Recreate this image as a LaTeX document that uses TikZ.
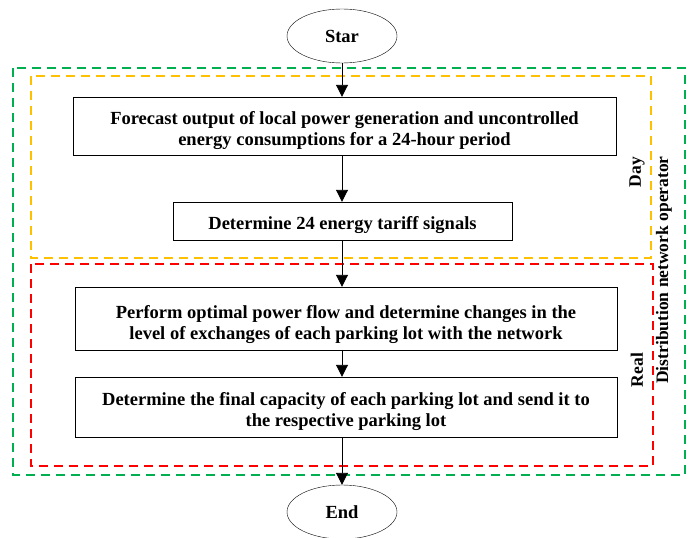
\documentclass[tikz,border=0pt]{standalone}
\usepackage{fontspec}
\setmainfont{Liberation Serif}
\usetikzlibrary{shapes.geometric,arrows.meta}
\begin{document}
\begin{tikzpicture}[x=1pt,y=-1pt,
  term/.style={draw,ellipse,minimum width=110pt,minimum height=54pt,font=\bfseries\fontsize{18.5}{21}\selectfont,inner sep=0pt},
  proc/.style={draw,rectangle,inner sep=0pt},
  ptext/.style={align=center,font=\bfseries\fontsize{18.5}{21}\selectfont,inner sep=0pt},
  flow/.style={line width=0.9pt,-{Triangle[length=12pt,width=12pt]}},
  grp/.style={dashed,dash pattern=on 9pt off 6pt,line width=1.6pt},
  lbl/.style={rotate=90,font=\bfseries\fontsize{17.5}{20}\selectfont,align=center}]
\useasboundingbox (0,0) rectangle (694,538);
\definecolor{dgreen}{RGB}{0,176,80}
\definecolor{dyellow}{RGB}{255,192,0}
\definecolor{dred}{RGB}{255,0,0}
\draw[grp,dgreen] (13,68) rectangle (685,475);
\draw[grp,dyellow] (31,76) rectangle (651,258);
\draw[grp,dred] (31,264) rectangle (653,466);
\node[term] (star) at (342,36) {Star};
\node[proc,minimum width=543pt,minimum height=58pt] (b1) at (344.5,126) {};
\node[ptext] (t1) at ([yshift=-5pt]b1.center) {Forecast output of local power generation and uncontrolled\\energy consumptions for a 24-hour period};
\node[proc,minimum width=339pt,minimum height=38pt] (b2) at (342.5,221) {};
\node[ptext] (t2) at ([yshift=-4pt]b2.center) {Determine 24 energy tariff signals};
\node[proc,minimum width=542pt,minimum height=63pt] (b3) at (346,318.5) {};
\node[ptext] (t3) at ([yshift=-6pt]b3.center) {Perform optimal power flow and determine changes in the\\level of exchanges of each parking lot with the network};
\node[proc,minimum width=542pt,minimum height=60pt] (b4) at (346,407) {};
\node[ptext] (t4) at ([yshift=-5pt]b4.center) {Determine the final capacity of each parking lot and send it to\\the respective parking lot};
\node[term] (end) at (342,512) {End};
\draw[flow] (star.south) -- (star.south |- b1.north);
\draw[flow] (star.south |- b1.south) -- (star.south |- b2.north);
\draw[flow] (star.south |- b2.south) -- (star.south |- b3.north);
\draw[flow] (star.south |- b3.south) -- (star.south |- b4.north);
\draw[flow] (star.south |- b4.south) -- (end.north);
\node[lbl] (day) at (637,172) {Day};
\node[lbl] (real) at (637,370) {Real};
\node[lbl] (dno) at (664,270) {Distribution network operator};
\end{tikzpicture}
\end{document}
